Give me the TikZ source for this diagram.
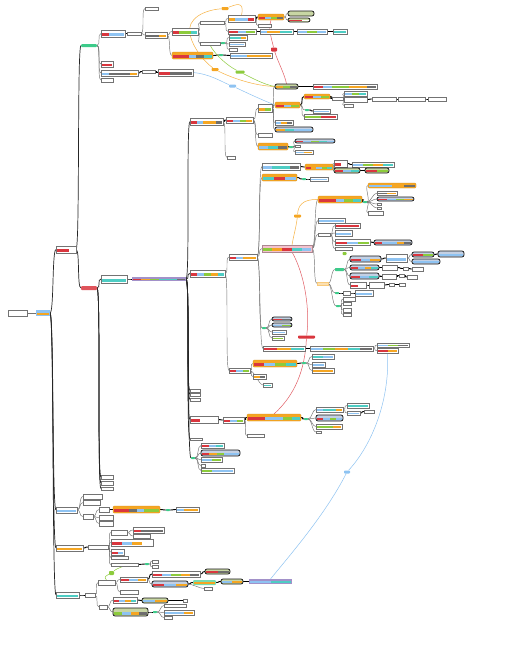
\documentclass[tikz,border=0pt]{standalone}
\usetikzlibrary{calc}
\pgfdeclarelayer{background}
\pgfsetlayers{background,main}
\definecolor{cR}{HTML}{D9363E}
\definecolor{cB}{HTML}{8EC3F2}
\definecolor{cO}{HTML}{F5A623}
\definecolor{cG}{HTML}{8CCB3C}
\definecolor{cC}{HTML}{4ECDC4}
\definecolor{cK}{HTML}{6E6E6E}
\definecolor{cP}{HTML}{A291C9}
\definecolor{pillB}{HTML}{C4D0E3}
\definecolor{pillG}{HTML}{C8D6A4}
\definecolor{cPk}{HTML}{F4C2CE}
\definecolor{cGr}{HTML}{3DCB8A}
\tikzset{
  nd/.style={inner sep=0pt,outer sep=0pt,anchor=north west},
  bx/.style={nd,draw=black!55,line width=0.4pt,fill=white},
  hl/.style={nd,fill=cO,draw=cO!85!black,line width=0.3pt,rounded corners=1pt},
  hlg/.style={nd,fill=cGr!70,rounded corners=1pt},
  pb/.style={nd,fill=pillB,draw=black!90,line width=0.75pt,rounded corners=2pt},
  pg/.style={nd,fill=pillG,draw=black!90,line width=0.75pt,rounded corners=2pt},
  pk/.style={nd,fill=cPk,draw=cPk!70!black,line width=0.3pt},
  pu/.style={nd,fill=cP},
  fl/.style={nd,fill=cB},
  gp/.style={nd,fill=cGr,rounded corners=1pt},
  rp/.style={nd,fill=cR!85,rounded corners=1pt},
  dot/.style={nd,fill=cGr,rounded corners=0.6pt},
  pe/.style={nd,fill=cO!35,draw=cO!60,line width=0.3pt},
  lab/.style={inner sep=0pt,minimum width=7pt,minimum height=3pt,rounded corners=0.8pt},
  br/.style={draw=black!85,line width=0.7pt},
  lf/.style={draw=black!55,line width=0.45pt},
  ln/.style={draw=black,line width=0.9pt},
  cur/.style={line width=0.5pt},
}
\newcommand\mybar[3]{%
  \foreach \cc [count=\nn] in {#2} {\xdef\nseg{\nn}}%
  \coordinate (barL) at ($(#1.south west)+(0.7,-0.6)$);
  \coordinate (barR) at ($(#1.south east)+(-0.7,-0.6)$);
  \foreach \cc [count=\ii] in {#2} {%
    \fill[\cc] ($(barL)!{(\ii-1)/\nseg}!(barR)$) rectangle ($(barL)!{\ii/\nseg}!(barR)+(0,-#3)$);
  }%
}
\newcommand\N[7]{\node[#1,minimum width=#5pt,minimum height=#6pt] (#2) at (#3,#4) {};%
  \pgfmathsetmacro\bh{max(1.5,0.42*#6)}%
  \if\relax\detokenize{#7}\relax\else\mybar{#2}{#7}{\bh}\fi}
\newcommand\C[3][lf]{\draw[#1] (#2.east) .. controls +(4,0) and +(-4,0) .. (#3.west);}
\begin{document}
\begin{tikzpicture}[x=1pt,y=-1pt]
\useasboundingbox (0,0) rectangle (523,664);
% root and level 1
\N{bx}{r0}{8}{310}{19}{6}{}
\N{fl}{r1}{36}{310}{14}{6}{cO}
\N{bx}{a}{56}{246}{20}{7}{cR,cR,white}
\N{bx}{b}{56}{507}{21}{6}{cB}
\N{bx}{c}{56}{545}{27}{6}{cO}
\N{bx}{d}{56}{592}{23}{6}{cC}
% top branch
\N{gp}{g}{81}{44}{16}{3}{}
\N{rp}{p}{81}{286}{16}{4}{}
\N{bx}{g1}{101}{30}{24}{7}{cR,cB,cB}
\N{bx}{g2}{101}{61}{12}{6}{cR}
\N{bx}{g3}{101}{70}{37}{6}{cB,cK,cK,cK,cO}
\N{bx}{g4}{101}{78}{12}{4}{}
\N{bx}{g1a}{127}{32}{14}{3}{}
\N{bx}{g1b}{145}{7}{13}{3}{}
\N{bx}{g1c}{145}{32}{22}{6}{cK,cK,cO}
\N{bx}{g1d}{172}{28}{26}{7}{cR,cG,cG,cC}
\N{hl}{g1g}{172}{52}{41}{7}{cR,cR,cB,cK,cC}
\N{bx}{g1e}{200}{21}{24}{3}{}
\N{bx}{g1f}{200}{42}{20}{3}{}
\N{bx}{g1e1}{228}{15}{27}{7}{cO,cB,cB,cR}
\N{bx}{g1h}{228}{29}{28}{5}{cR,cB,cG}
\N{hl}{g1e2}{258}{14}{26}{6}{cR,cB,cG,cK}
\N{bx}{g1e3}{258}{24}{13}{3}{}
\N{pg}{pa}{288}{11}{26}{5}{}
\N{pg}{pb}{288}{18}{22}{4}{cR,cR,white}
\N{bx}{g1h1}{260}{29}{33}{5}{cB,cO,cO,cC,cC}
\N{bx}{g1h2}{297}{29}{30}{5}{cB,cG,cB}
\N{bx}{g1h3}{333}{29}{14}{5}{cC}
\N{dot}{gd1}{221}{42}{4}{2}{}
\N{bx}{g1f1}{229}{35}{18}{5}{cC,cC,cO}
\N{bx}{g1f2}{229}{42}{16}{4}{cB}
\N{bx}{g1f3}{229}{48}{8}{3}{}
\N{dot}{gd2}{219}{54}{4}{2}{}
\N{bx}{g1g1}{230}{53}{42}{5}{cB,cB,cO,cO,cO}
\N{bx}{g3a}{142}{70}{13}{3}{}
\N{bx}{g3b}{158}{69}{35}{7}{cR,cK,cK}
% p branch
\N{bx}{p1}{101}{275}{26}{8}{cC}
\N{pu}{p2}{132}{277}{54}{4}{cR,cO,cG,cC,cC,cK}
\N{bx}{p3}{101}{475}{12}{4}{}
\N{bx}{p4}{101}{481}{12}{4}{}
\N{bx}{p5}{101}{487}{12}{3}{}
\N{bx}{q1}{190}{118}{33}{7}{cR,cB,cO,cO,cK}
\N{bx}{q2}{190}{270}{35}{7}{cR,cB,cG,cO,cC}
\N{bx}{q3}{190}{389}{10}{3}{}
\N{bx}{q4}{190}{393}{10}{3}{}
\N{bx}{q5}{190}{398}{10}{3}{}
\N{bx}{q6}{190}{416}{28}{7}{cR,white,white}
\N{bx}{q7}{190}{438}{12}{2}{}
\N{dot}{qd}{191}{457}{4}{2}{}
\N{bx}{q8a}{201}{443}{23}{5}{cR,cB,cC}
\N{pb}{q8b}{201}{450}{39}{6}{cR,cO,cG,cB,cB}
\N{bx}{q8c}{201}{457}{21}{5}{cB,cG}
\N{bx}{q8d}{201}{464}{4}{3}{}
\N{bx}{q8e}{201}{468}{33}{5}{cG,cB,cB}
% q1
\N{bx}{q1a}{226}{117}{27}{6}{cR,cB,cG,cO}
\N{bx}{q1b}{227}{156}{8}{3}{}
\N{bx}{q1a1}{258}{104}{14}{8}{cO,cG}
\N{bx}{q1a2}{258}{133}{14}{4}{}
\N{hl}{q1a3}{258}{143}{30}{7}{cB,cC,cK}
\N{pg}{w1}{275}{84}{23}{5}{cO,cG,cK}
\N{hl}{w2}{275}{102}{25}{6}{cR,cB,cG}
\N{bx}{w3}{275}{120}{18}{5}{cB,cO,cK}
\N{pb}{w4}{275}{127}{38}{5}{cO,cC,cB,cB}
\N{bx}{w1a}{313}{84}{64}{5}{cR,cB,cG,cG,cO,cO,cK}
\N{hl}{w2a}{304}{94}{26}{5}{cR,cB,cG}
\N{bx}{w2b}{332}{97}{11}{3}{}
\N{bx}{w2c}{344}{91}{23}{5}{cB,cG,cC}
\N{bx}{w2d}{344}{97}{23}{5}{}
\N{bx}{w2e}{344}{104}{9}{3}{}
\N{bx}{w2f}{372}{97}{24}{4}{}
\N{bx}{w2g}{398}{97}{27}{4}{}
\N{bx}{w2h}{428}{97}{18}{4}{}
\N{dot}{wd}{305}{109}{4}{2}{}
\N{bx}{w2i}{313}{109}{17}{4}{cB}
\N{bx}{w2j}{304}{114}{33}{5}{cG,cG,cR,cR}
\N{dot}{xd}{289}{146}{4}{2}{}
\N{pb}{x1}{295}{139}{40}{4}{cR,cB,cG,cC,cB}
\N{bx}{x2}{295}{145}{5}{2}{}
\N{bx}{x3}{295}{150}{18}{4}{cB,cO}
% q2
\N{bx}{q2a}{229}{254}{28}{6}{cR,cB,cO,cO}
\N{bx}{q2b}{229}{368}{21}{5}{cR,cB,cG}
\N{bx}{y1}{262}{163}{38}{7}{cB,cC,cC,cK}
\N{hl}{y2}{262}{174}{35}{7}{cC,cR,cB}
\N{pk}{y3}{262}{245}{50}{7}{cG,cO,cR,cC,cB}
\N{dot}{yd}{262}{327}{4}{2}{}
\N{bx}{y5}{263}{346}{42}{5}{cR,cO,cC}
\N{hl}{y1a}{305}{164}{28}{6}{cR,cO,cB,cG,cC}
\N{bx}{y1b}{334}{160}{13}{7}{cR,white}
\N{bx}{y1c}{352}{162}{42}{5}{cB,cG,cO,cC}
\N{pg}{y1d}{334}{168}{26}{5}{cR,cB,cC}
\N{pg}{y1e}{365}{168}{24}{5}{cR,cG}
\N{dot}{y2d}{302}{178}{4}{2}{}
\N{bx}{y2a}{310}{177}{18}{4}{cB}
\N{pb}{ya}{272}{317}{20}{4}{cR,cK}
\N{pb}{yb}{272}{323}{20}{4}{cB,cG}
\N{bx}{yc}{272}{330}{14}{4}{cB}
\N{bx}{ye}{272}{336}{12}{4}{cG}
\N{bx}{y5a}{310}{346}{63}{5}{cB,cG,cO,cC,cK}
\N{bx}{y5b}{377}{343}{32}{4}{cB,cG,cK}
\N{bx}{y5c}{377}{348}{21}{5}{cR,cO}
\N{hl}{q2c}{253}{360}{44}{7}{cR,cB,cG,cC}
\N{bx}{q2d}{253}{374}{13}{5}{cO,cK}
\N{bx}{q2e}{263}{383}{9}{4}{cC}
\N{dot}{q2cd}{302}{362}{4}{2}{}
\N{bx}{q2c1}{312}{354}{22}{5}{cC,cB}
\N{bx}{q2c2}{312}{362}{13}{5}{cB}
\N{bx}{q2c3}{312}{368}{22}{5}{cO}
% y3
\N{hl}{y3a}{318}{196}{44}{7}{cR,cR,cB,cG,cC}
\N{bx}{y3b}{318}{218}{27}{5}{cB,cB}
\N{bx}{y3c}{318}{233}{12}{3}{}
\N{pe}{y3d}{317}{282}{11}{3}{}
\N{dot}{y3ad}{363}{201}{4}{2}{}
\N{hl}{y3a1}{368}{183}{48}{5}{cB,cB,cO,cK}
\N{bx}{y3a2}{377}{191}{20}{4}{cK,cO}
\N{pb}{y3a3}{377}{197}{37}{4}{cR,cB,cG,cO}
\N{bx}{y3a4}{377}{203}{4}{2}{}
\N{bx}{y3a5}{377}{207}{4}{2}{}
\N{bx}{y3a6}{368}{211}{15}{4}{}
\N{bx}{y3c1}{335}{223}{25}{5}{cR,cR}
\N{bx}{y3c2}{335}{230}{17}{6}{cB}
\N{bx}{y3c3}{335}{239}{35}{6}{cR,cB,cG}
\N{bx}{y3c4}{335}{247}{17}{3}{}
\N{pb}{y3c5}{374}{240}{38}{5}{cR,cB,cB,cO,cK}
\N{dot}{y3dd}{335}{268}{9}{3}{}
\N{pb}{z1}{350}{256}{31}{6}{cR,cB,cO}
\N{pb}{z2}{350}{265}{29}{5}{cR,cB,cO,cC}
\N{pb}{z3}{350}{273}{29}{6}{cR,cB,cC}
\N{bx}{z4}{350}{282}{16}{6}{cR,white}
\N{bx}{z1a}{386}{254}{21}{8}{cB,cB}
\N{pb}{z1b}{412}{252}{22}{5}{cR,cG}
\N{pb}{z1c}{412}{259}{28}{5}{cB}
\N{pb}{z1d}{438}{251}{26}{6}{cB}
\N{bx}{z2a}{382}{265}{15}{5}{}
\N{bx}{z2b}{403}{267}{5}{3}{}
\N{bx}{z2c}{412}{267}{11}{4}{}
\N{bx}{z3a}{382}{274}{14}{5}{}
\N{bx}{z3b}{399}{274}{5}{3}{}
\N{bx}{z3c}{407}{275}{10}{4}{}
\N{bx}{z4a}{369}{282}{15}{6}{}
\N{bx}{z4b}{389}{283}{5}{3}{}
\N{bx}{z4c}{399}{283}{6}{3}{}
\N{dot}{y3de}{335}{292}{4}{2}{}
\N{bx}{z5}{343}{291}{7}{4}{}
\N{bx}{z6}{355}{290}{18}{6}{cB}
\N{dot}{y3df}{336}{305}{4}{2}{}
\N{bx}{z7}{343}{297}{12}{4}{}
\N{bx}{z8}{343}{302}{8}{3}{}
\N{bx}{z9}{343}{308}{8}{4}{}
\N{bx}{z10}{343}{313}{8}{3}{}
% q6
\N{bx}{q6a}{223}{417}{21}{6}{cR,cB,cG}
\N{hl}{q6b}{247}{414}{54}{7}{cR,cR,cB,cB,cG,cC}
\N{bx}{q6c}{247}{434}{17}{3}{}
\N{dot}{q6d}{304}{418}{4}{2}{}
\N{bx}{z11}{316}{407}{27}{5}{cB,cC,cC,cO}
\N{pb}{z12}{316}{415}{27}{6}{cR,cB,cG,cB}
\N{bx}{z13}{316}{424}{26}{5}{cG,cG,cO}
\N{bx}{z14}{316}{431}{5}{2}{}
\N{bx}{z11a}{347}{403}{22}{5}{cC}
\N{bx}{z11b}{347}{411}{13}{4}{cB}
\N{bx}{z11c}{364}{410}{10}{3}{}
% b
\N{bx}{b1}{83}{494}{19}{5}{}
\N{bx}{b2}{83}{500}{17}{5}{}
\N{bx}{b3}{83}{514}{10}{5}{}
\N{bx}{b3a}{99}{507}{10}{5}{}
\N{bx}{b3b}{99}{515}{14}{5}{}
\N{bx}{b3c}{99}{521}{14}{5}{}
\N{hl}{b4}{113}{506}{47}{7}{cR,cR,cK,cB,cG,cG}
\N{dot}{bd}{166}{509}{4}{2}{}
\N{bx}{b5}{176}{507}{23}{5}{cB,cO,cO}
% c
\N{bx}{c1}{88}{545}{20}{4}{}
\N{bx}{c1a}{111}{530}{16}{5}{}
\N{bx}{c1a1}{133}{527}{31}{6}{cR,cK,cK,cK}
\N{bx}{c1a2}{133}{534}{17}{4}{}
\N{bx}{c1b}{111}{539}{42}{7}{cR,cB,cO,white}
\N{bx}{c1c}{111}{549}{13}{6}{cR,cB}
\N{bx}{c1d}{111}{556}{17}{3}{}
\N{bx}{c1e}{111}{563}{27}{3}{}
\N{dot}{ced}{145}{563}{4}{2}{}
\N{bx}{c1e1}{152}{560}{6}{3}{}
\N{bx}{c1e2}{152}{565}{6}{3}{}
% d
\N{bx}{d1}{85}{593}{10}{4}{}
\N{bx}{d1a}{98}{580}{17}{5}{}
\N{bx}{d1x}{99}{605}{8}{4}{}
\N{bx}{d1b}{113}{597}{24}{6}{cR,cB,cO,cC}
\N{pg}{d1c}{113}{608}{35}{8}{cG,cB,cO,cK}
\N{pg}{d1b2}{142}{598}{26}{5}{cB,cO}
\N{bx}{d1b3}{183}{599}{4}{3}{}
\N{dot}{d1cd}{153}{611}{4}{2}{}
\N{bx}{d1c1}{164}{604}{22}{3}{}
\N{bx}{d1c2}{164}{610}{30}{5}{cB,cB,cO}
\N{bx}{d1c3}{164}{616}{8}{3}{}
\N{bx}{da1}{120}{577}{27}{5}{cR,cB,cO}
\N{bx}{da6}{120}{590}{18}{4}{}
\N{bx}{da1a}{152}{571}{48}{6}{cR,cB,cG,cO,cK}
\N{pg}{da1b}{205}{569}{25}{5}{cR,cK}
\N{pb}{da2}{152}{581}{36}{6}{cR,cB,cO}
\N{hlg}{da3}{193}{580}{23}{5}{cO}
\N{pg}{da4}{221}{579}{22}{5}{cB,cO}
\N{pu}{da5}{249}{579}{43}{5}{cB,cC}
\N{bx}{da2a}{204}{587}{8}{3}{}
% curve labels
\node[lab,fill=cO] (la1) at (225,8.5) {};
\node[lab,fill=cO] (la2) at (215,69.5) {};
\node[lab,fill=cG,minimum width=9pt] (lg1) at (240,72) {};
\node[lab,fill=cB] (lb1) at (232.5,86) {};
\node[lab,fill=cR,minimum width=6pt,minimum height=4pt] (lr1) at (274,49.5) {};
\node[lab,fill=cR,minimum width=17pt] (lr2) at (306.5,337) {};
\node[lab,fill=cO] (lo2) at (297.5,216) {};
\node[lab,fill=cB,minimum width=6pt] (lb2) at (347,472) {};
\node[lab,fill=cG,minimum width=5pt,minimum height=4pt] (lg2) at (111.5,573) {};
\node[lab,fill=cG,minimum width=4pt,minimum height=3pt] (lg3) at (344.5,253.5) {};
\begin{pgfonlayer}{background}
\fill[white] (0,0) rectangle (523,664);
\C{r0}{r1}
\C[br]{r1}{a}\C[br]{r1}{b}\C[br]{r1}{c}\C[br]{r1}{d}
\C[br]{a}{g}\C[br]{a}{p}
\C{g}{g1}\C{g}{g2}\C{g}{g3}\C{g}{g4}
\C[ln]{g1}{g1a}
\C{g1a}{g1b}\C{g1a}{g1c}
\C{g1c}{g1d}\C{g1c}{g1g}
\C{g1d}{g1e}\C{g1d}{g1f}
\C{g1e}{g1e1}\C{g1e}{g1h}
\C[ln]{g1e1}{g1e2}\C{g1e1}{g1e3}
\C{g1e2}{pa}\C{g1e2}{pb}
\C[ln]{g1h}{g1h1}\C[ln]{g1h1}{g1h2}\C[ln]{g1h2}{g1h3}
\C[ln]{g1f}{gd1}\C{gd1}{g1f1}\C{gd1}{g1f2}\C{gd1}{g1f3}
\C[ln]{g1g}{gd2}\C[ln]{gd2}{g1g1}
\C[ln]{g3}{g3a}\C[ln]{g3a}{g3b}
\C[br]{p}{p1}\C[br]{p}{p3}\C[br]{p}{p4}\C[br]{p}{p5}
\C[ln]{p1}{p2}
\C[br]{p2}{q1}\C[br]{p2}{q2}\C[br]{p2}{q3}\C[br]{p2}{q4}\C[br]{p2}{q5}\C[br]{p2}{q6}\C[br]{p2}{q7}\C[br]{p2}{qd}
\C{qd}{q8a}\C{qd}{q8b}\C{qd}{q8c}\C{qd}{q8d}\C{qd}{q8e}
\C[ln]{q1}{q1a}\C{q1}{q1b}
\C{q1a}{q1a1}\C{q1a}{q1a2}\C{q1a}{q1a3}
\C{q1a1}{w1}\C{q1a1}{w2}\C{q1a1}{w3}\C{q1a1}{w4}
\C[ln]{w1}{w1a}
\C[ln]{w2}{w2a}\C[ln]{w2a}{w2b}\C{w2b}{w2c}\C{w2b}{w2d}\C{w2b}{w2e}
\C[ln]{w2d}{w2f}\C[ln]{w2f}{w2g}\C[ln]{w2g}{w2h}
\C{w2}{wd}\C[ln]{wd}{w2i}\C{w2}{w2j}
\C[ln]{q1a3}{xd}\C{xd}{x1}\C{xd}{x2}\C{xd}{x3}
\C{q2}{q2a}\C{q2}{q2b}
\C{q2a}{y1}\C{q2a}{y2}\C{q2a}{y3}\C{q2a}{yd}\C{q2a}{y5}
\C[ln]{y1}{y1a}\C{y1a}{y1b}\C{y1a}{y1d}\C[ln]{y1b}{y1c}\C[ln]{y1d}{y1e}
\C[ln]{y2}{y2d}\C[ln]{y2d}{y2a}
\C{yd}{ya}\C{yd}{yb}\C{yd}{yc}\C{yd}{ye}
\C[ln]{y5}{y5a}\C{y5a}{y5b}\C{y5a}{y5c}
\C{q2b}{q2c}\C{q2b}{q2d}\C{q2b}{q2e}
\C[ln]{q2c}{q2cd}\C{q2cd}{q2c1}\C{q2cd}{q2c2}\C{q2cd}{q2c3}
\C{y3}{y3a}\C{y3}{y3b}\C{y3}{y3c}\C{y3}{y3d}
\C[ln]{y3a}{y3ad}\C{y3ad}{y3a1}\C{y3ad}{y3a2}\C{y3ad}{y3a3}\C{y3ad}{y3a4}\C{y3ad}{y3a5}\C{y3ad}{y3a6}
\C{y3c}{y3c1}\C{y3c}{y3c2}\C{y3c}{y3c3}\C{y3c}{y3c4}\C[ln]{y3c3}{y3c5}
\C{y3d}{y3dd}\C{y3dd}{z1}\C{y3dd}{z2}\C{y3dd}{z3}\C{y3dd}{z4}
\C[ln]{z1}{z1a}\C{z1a}{z1b}\C{z1a}{z1c}\C[ln]{z1b}{z1d}
\C[ln]{z2}{z2a}\C[ln]{z2a}{z2b}\C[ln]{z2b}{z2c}
\C[ln]{z3}{z3a}\C[ln]{z3a}{z3b}\C[ln]{z3b}{z3c}
\C[ln]{z4}{z4a}\C[ln]{z4a}{z4b}\C[ln]{z4b}{z4c}
\C{y3d}{y3de}\C[ln]{y3de}{z5}\C[ln]{z5}{z6}
\C{y3d}{y3df}\C{y3df}{z7}\C{y3df}{z8}\C{y3df}{z9}\C{y3df}{z10}
\C[ln]{q6}{q6a}\C[ln]{q6a}{q6b}\C{q6a}{q6c}
\C[ln]{q6b}{q6d}\C{q6d}{z11}\C{q6d}{z12}\C{q6d}{z13}\C{q6d}{z14}
\C{z11}{z11a}\C{z11}{z11b}\C[ln]{z11b}{z11c}
\C{b}{b1}\C{b}{b2}\C{b}{b3}
\C{b3}{b3a}\C{b3}{b3b}\C{b3}{b3c}
\C[ln]{b3a}{b4}\C[ln]{b4}{bd}\C[ln]{bd}{b5}
\C[ln]{c}{c1}
\C{c1}{c1a}\C{c1}{c1b}\C{c1}{c1c}\C{c1}{c1d}\C{c1}{c1e}
\C{c1a}{c1a1}\C{c1a}{c1a2}
\C[ln]{c1e}{ced}\C{ced}{c1e1}\C{ced}{c1e2}
\C[ln]{d}{d1}
\C{d1}{d1a}\C{d1}{d1x}
\C{d1x}{d1b}\C{d1x}{d1c}
\C[ln]{d1b}{d1b2}\C[ln]{d1b2}{d1b3}
\C[ln]{d1c}{d1cd}\C{d1cd}{d1c1}\C{d1cd}{d1c2}\C{d1cd}{d1c3}
\C{d1a}{da1}\C{d1a}{da6}
\C[ln]{da1}{da1a}\C[ln]{da1a}{da1b}
\C{da1}{da2}
\C[ln]{da2}{da3}\C[ln]{da3}{da4}\C[ln]{da4}{da5}
\C{da2}{da2a}
% relation curves
\draw[cur,cO!85] (g1e1.north) .. controls (245,0) and (235,5) .. (la1) .. controls (205,10) and (186,18) .. (190,35) .. controls (194,50) and (205,62) .. (la2) .. controls (232,78) and (255,86) .. (w1.west);
\draw[cur,cG] (g1f.south) .. controls (215,55) and (228,66) .. (lg1) .. controls (252,78) and (265,85) .. (w1.west);
\draw[cur,cB] (g3b.east) .. controls (210,74) and (222,82) .. (lb1) .. controls (245,92) and (262,100) .. (w2.west);
\draw[cur,cR!80] (g1e2.south) .. controls (268,30) and (272,40) .. (lr1) .. controls (278,62) and (285,75) .. (w1.north);
\draw[cur,cR!80] ($(y3.south)+(5,0)$) .. controls (305,275) and (310,310) .. (lr2) .. controls (305,370) and (295,395) .. (q6b.north);
\draw[cur,cO!85] (y3a.west) .. controls (302,199) and (298,206) .. (lo2) .. controls (296,228) and (293,238) .. ($(y3.north)+(5,0)$);
\draw[cur,cB] (y5c.south) .. controls (390,400) and (372,445) .. (lb2) .. controls (325,515) and (290,555) .. (da5.north);
\draw[cur,cG] (d1a.north) .. controls (103,577) and (107,575) .. (lg2) .. controls (115,570) and (118,568) .. (c1e.south);
\end{pgfonlayer}
\end{tikzpicture}
\end{document}
